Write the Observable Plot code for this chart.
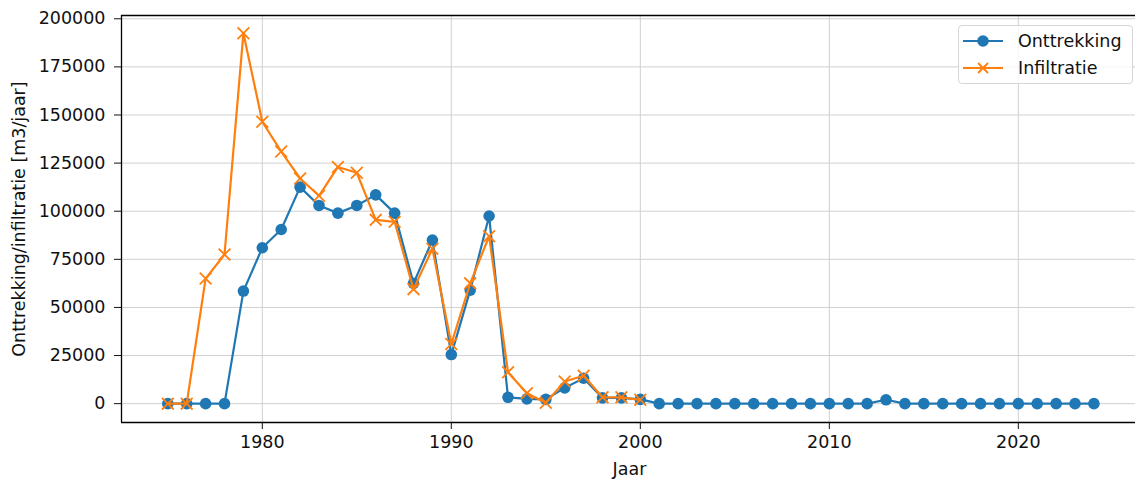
<!DOCTYPE html>
<html>
<head>
<meta charset="utf-8">
<script src="https://cdn.jsdelivr.net/npm/d3@7"></script>
<script src="https://cdn.jsdelivr.net/npm/@observablehq/plot@0.6"></script>
<style>
  html, body { margin: 0; padding: 0; background: #fff; }
  #wrap { position: relative; width: 1135px; height: 479px; font-family: "DejaVu Sans", sans-serif; }
  #legend { position: absolute; left: 958px; top: 25px; width: 175px; height: 59px; box-sizing: border-box;
    border: 1px solid #d6d6d6; border-radius: 4px; background: rgba(255,255,255,0.8); }
  .row { position: absolute; left: 0; height: 20px; display: flex; align-items: center; }
  .row svg { margin-left: 4px; }
  .row span { margin-left: 15px; font-size: 17.5px; color: #111; }
</style>
</head>
<body>
<div id="wrap"></div>
<script>
const years = [1975,1976,1977,1978,1979,1980,1981,1982,1983,1984,1985,1986,1987,1988,1989,1990,1991,1992,1993,1994,1995,1996,1997,1998,1999,2000,
  2001,2002,2003,2004,2005,2006,2007,2008,2009,2010,2011,2012,2013,2014,2015,2016,2017,2018,2019,2020,2021,2022,2023,2024];
const onttrekking = [0,0,0,0,58500,81000,90500,112500,103000,99000,103000,108500,99000,62500,85000,25500,59000,97500,3300,2500,2200,8200,13200,3000,3000,2200,
  0,0,0,0,0,0,0,0,0,0,0,0,2000,0,0,0,0,0,0,0,0,0,0,0];
const infiltratieYears = [1975,1976,1977,1978,1979,1980,1981,1982,1983,1984,1985,1986,1987,1988,1989,1990,1991,1992,1993,1994,1995,1996,1997,1998,1999,2000];
const infiltratie = [0,0,65000,77500,192500,146500,131000,117000,108000,123000,120000,95500,94500,59500,80500,31000,62500,87000,16300,5400,500,11500,14500,3300,3300,2000];
const xTicks = [1980,1990,2000,2010,2020];
const yTicks = [0,25000,50000,75000,100000,125000,150000,175000,200000];
const seriesNames = ["Onttrekking","Infiltratie"];
const colors = ["#1f77b4","#ff7f0e"];

const ont = years.map((y,i) => ({year: y, value: onttrekking[i]}));
const inf = infiltratieYears.map((y,i) => ({year: y, value: infiltratie[i]}));

const xDom = [1972.55, 2026.2];
const yDom = [-9800, 201700];
const FS = 17.5;

const chart = Plot.plot({
  width: 1135, height: 479,
  marginLeft: 121, marginRight: 0, marginTop: 15, marginBottom: 57,
  style: {fontFamily: "DejaVu Sans", fontSize: FS + "px", color: "#111", background: "transparent"},
  x: {type: "linear", domain: xDom},
  y: {type: "linear", domain: yDom},
  marks: [
    Plot.gridX(xTicks, {stroke: "#d0d0d0", strokeOpacity: 1, strokeWidth: 1}),
    Plot.gridY(yTicks, {stroke: "#d0d0d0", strokeOpacity: 1, strokeWidth: 1}),
    Plot.line(ont, {x: "year", y: "value", stroke: colors[0], strokeWidth: 2.2}),
    Plot.dot(ont, {x: "year", y: "value", fill: colors[0], r: 5.8, stroke: "none"}),
    Plot.line(inf, {x: "year", y: "value", stroke: colors[1], strokeWidth: 2.2}),
    Plot.dot(inf, {x: "year", y: "value", symbol: "times", stroke: colors[1], r: 5.4, strokeWidth: 1.8}),
    Plot.ruleY([yDom[0]], {stroke: "#000", strokeWidth: 1.3}),
    Plot.ruleY([yDom[1]], {stroke: "#000", strokeWidth: 1.3}),
    Plot.ruleX([xDom[0]], {stroke: "#000", strokeWidth: 1.3}),
    Plot.axisX({ticks: xTicks, tickFormat: "d", tickSize: 7, tickPadding: 6, label: null, fontSize: FS}),
    Plot.axisY({ticks: yTicks, tickFormat: "d", tickSize: 7, tickPadding: 9, label: null, fontSize: FS}),
    Plot.text(["Jaar"], {frameAnchor: "bottom", dy: 40, dx: 1, fontSize: FS, lineAnchor: "top"}),
    Plot.text(["Onttrekking/infiltratie [m3/jaar]"], {frameAnchor: "left", dx: -109, rotate: -90, fontSize: FS, textAnchor: "middle", lineAnchor: "top"})
  ]
});

const wrap = document.getElementById("wrap");
wrap.appendChild(chart);

const legend = document.createElement("div");
legend.id = "legend";
seriesNames.forEach((name, i) => {
  const row = document.createElement("div");
  row.className = "row";
  row.style.top = (i === 0 ? 5 : 32) + "px";
  const marker = i === 0
    ? `<circle cx="20" cy="10" r="5.8" fill="${colors[0]}"/>`
    : `<path d="M15,5L25,15M25,5L15,15" stroke="${colors[1]}" stroke-width="1.8"/>`;
  row.innerHTML = `<svg width="40" height="20"><line x1="0" x2="40" y1="10" y2="10" stroke="${colors[i]}" stroke-width="2.2"/>${marker}</svg><span>${name}</span>`;
  legend.appendChild(row);
});
wrap.appendChild(legend);
</script>
</body>
</html>
